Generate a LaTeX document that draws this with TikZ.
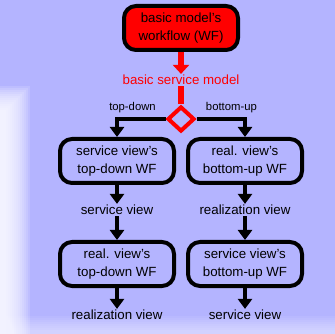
\documentclass[tikz,border=0pt]{standalone}
\usepackage{fontspec}
\setmainfont{Liberation Sans}
\usetikzlibrary{calc,shapes.geometric,arrows.meta}
\definecolor{lavender}{RGB}{180,180,255}
\tikzset{
  wfbox/.style={draw=black,line width=4pt,rounded corners=12pt,minimum width=114pt,minimum height=44pt,
    align=center,font=\fontsize{13.3}{18}\selectfont},
  viewlabel/.style={inner sep=1pt,font=\fontsize{13.3}{16}\selectfont},
  branchlabel/.style={inner sep=1pt,font=\fontsize{11.3}{13}\selectfont},
  flow/.style={line width=3.5pt,-{Triangle[width=14pt,length=10pt]}},
  redflow/.style={red,line width=6pt,-{Triangle[width=16pt,length=9pt]}}
}
\begin{document}
\begin{tikzpicture}[x=1pt,y=-1pt]
    \fill[lavender] (0,0) rectangle (335,334);
    \foreach \i in {0,...,12}
      \fill[white,opacity=0.14] (0,{86+2*\i}) rectangle ({30-2*\i},334);
    \foreach \i in {0,...,7}
      \fill[white,opacity=0.07] (0,{316+2*\i}) rectangle (335,334);
    \useasboundingbox (0,0) rectangle (335,334);

    \node[wfbox,fill=red] (wf) at (181,28) {basic model's\\workflow (WF)};
    \node[viewlabel,text=red] (bsm) at (181,80) {basic service model};
    \node[diamond,draw=red,line width=4pt,minimum width=27pt,minimum height=25pt,inner sep=0pt] (dec) at (181,119) {};

    \node[wfbox] (sv1) at (117,161) {service view's\\top-down WF};
    \node[wfbox] (rv1) at (245,161) {real. view's\\bottom-up WF};
    \node[viewlabel] (svl1) at (117,210) {service view};
    \node[viewlabel] (rvl1) at (245,210) {realization view};
    \node[wfbox] (rv2) at (117,264) {real. view's\\top-down WF};
    \node[wfbox] (sv2) at (245,264) {service view's\\bottom-up WF};
    \node[viewlabel] (rvl2) at (117,315) {realization view};
    \node[viewlabel] (svl2) at (245,315) {service view};

    \draw[redflow] (wf.south) -- (bsm.north);
    \draw[red,line width=6pt] (bsm.south) -- (dec.north);
    \draw[flow] (dec.west) -| node[branchlabel,pos=0.34,above=3pt] (td) {top-down} (sv1.north);
    \draw[flow] (dec.east) -| node[branchlabel,pos=0.36,above=3pt] (bu) {bottom-up} (rv1.north);
    \draw[flow] (sv1.south) -- (svl1.north);
    \draw[flow] (rv1.south) -- (rvl1.north);
    \draw[flow] (svl1.south) -- (rv2.north);
    \draw[flow] (rvl1.south) -- (sv2.north);
    \draw[flow] (rv2.south) -- (rvl2.north);
    \draw[flow] (sv2.south) -- (svl2.north);
  \end{tikzpicture}
\end{document}
